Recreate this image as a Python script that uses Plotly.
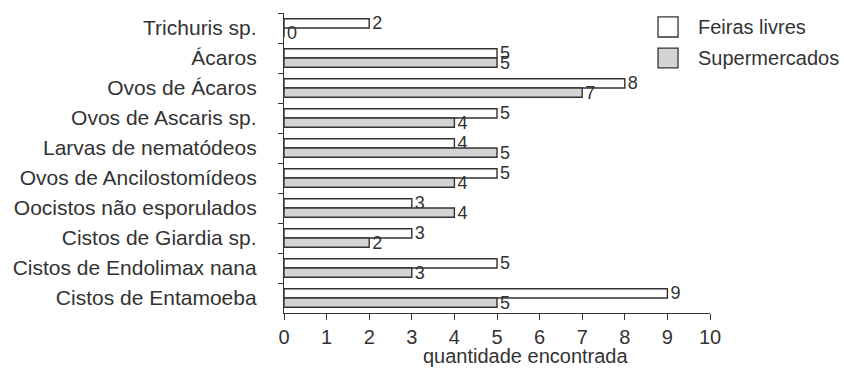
import plotly.graph_objects as go

categories = ["Trichuris sp.", "Ácaros", "Ovos de Ácaros", "Ovos de Ascaris sp.",
              "Larvas de nematódeos", "Ovos de Ancilostomídeos", "Oocistos não esporulados",
              "Cistos de Giardia sp.", "Cistos de Endolimax nana", "Cistos de Entamoeba"]
feiras = [2, 5, 8, 5, 4, 5, 3, 3, 5, 9]
supermercados = [0, 5, 7, 4, 5, 4, 4, 2, 3, 5]
series_names = ["Feiras livres", "Supermercados"]
x_ticks = list(range(0, 11))

font = "Liberation Sans, Arial, sans-serif"
ink = "#333333"
gray = "#d4d4d4"

fig = go.Figure()
for name, vals, fill in [(series_names[0], feiras, "white"), (series_names[1], supermercados, gray)]:
    fig.add_trace(go.Bar(
        y=categories, x=vals, orientation="h", name=name,
        marker=dict(color=fill, line=dict(color=ink, width=1.4)),
        text=[str(v) for v in vals], textposition="outside", cliponaxis=False,
        constraintext="none",
        textfont=dict(size=18, color=ink, family=font),
        showlegend=False,
    ))

# custom legend (large square swatches like the reference)
legend_rows = [(series_names[0], "white", 0.987, 0.920), (series_names[1], gray, 0.883, 0.817)]
for name, fill, y1, y0 in legend_rows:
    fig.add_shape(type="rect", xref="paper", yref="paper", x0=0.878, x1=0.925, y0=y0, y1=y1,
                  fillcolor=fill, line=dict(color=ink, width=1.3))
    fig.add_annotation(xref="paper", yref="paper", x=0.967, y=(y0 + y1) / 2, text=name,
                       showarrow=False, xanchor="left", yanchor="middle",
                       font=dict(size=20, color=ink, family=font))

fig.add_annotation(xref="paper", yref="paper", x=0.568, y=-0.143, text="quantidade encontrada",
                   showarrow=False, xanchor="center", yanchor="middle",
                   font=dict(size=20, color=ink, family=font))

fig.update_layout(
    width=844, height=369,
    margin=dict(l=284, r=134, t=13, b=56, autoexpand=False),
    paper_bgcolor="white", plot_bgcolor="white",
    barmode="group", bargap=0.38, bargroupgap=0,
    font=dict(family=font, color=ink, size=20),
    showlegend=False,
)
fig.update_xaxes(
    range=[0, 10], tickvals=x_ticks, ticktext=[str(v) for v in x_ticks],
    showline=True, linecolor=ink, linewidth=1.3,
    ticks="outside", ticklen=6, tickcolor=ink, tickwidth=1.3,
    showgrid=False, zeroline=False, automargin=False,
    tickfont=dict(size=20, color=ink, family=font),
)
fig.update_yaxes(
    type="category", categoryorder="array", categoryarray=categories,
    autorange="reversed",
    showline=True, linecolor=ink, linewidth=1.3,
    ticks="outside", ticklen=5, tickcolor=ink, tickwidth=1.3, tickson="boundaries",
    showgrid=False, zeroline=False, automargin=False,
    tickfont=dict(size=21, color=ink, family=font),
    ticklabelstandoff=22,
)

fig.write_html("out.html", config={"displayModeBar": False},
               post_script="document.body.style.margin='0px';document.body.style.overflow='hidden';")
